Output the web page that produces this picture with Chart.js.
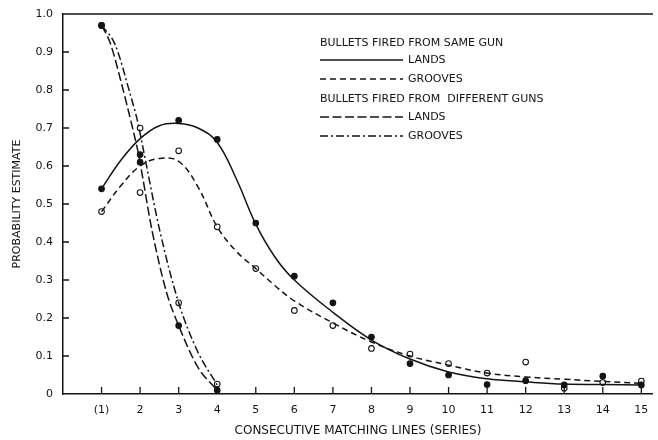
<!DOCTYPE html>
<html>
<head>
<meta charset="utf-8">
<script src="https://cdn.jsdelivr.net/npm/chart.js@4.4.1/dist/chart.umd.min.js"></script>
<style>
  html, body { margin: 0; padding: 0; background: #fff; }
  #wrap { width: 658px; height: 440px; }
</style>
</head>
<body>
<div id="wrap"><canvas id="myChart"></canvas></div>
<script>
// fitted curves
const sameCurveX = [1, 1.5, 2, 2.5, 3, 3.5, 4, 4.5, 5, 5.5, 6, 7, 8, 9, 10, 11, 12, 13, 14, 15];
const sameLandsCurve = [0.54, 0.615, 0.672, 0.706, 0.712, 0.70, 0.662, 0.565, 0.447, 0.36, 0.30, 0.215, 0.142, 0.092, 0.058, 0.04, 0.032, 0.026, 0.025, 0.024];
const sameGroovesCurve = [0.48, 0.548, 0.60, 0.62, 0.612, 0.545, 0.44, 0.375, 0.33, 0.285, 0.245, 0.187, 0.137, 0.10, 0.076, 0.055, 0.045, 0.039, 0.033, 0.028];

const diffLandsCurveX = [1, 1.22, 1.56, 1.78, 1.95, 2.31, 2.69, 3, 3.5, 4];
const diffLandsCurve = [0.97, 0.925, 0.80, 0.71, 0.635, 0.43, 0.266, 0.18, 0.07, 0.01];
const diffGroovesCurveX = [1, 1.35, 1.74, 1.94, 2.07, 2.51, 3, 3.5, 4];
const diffGroovesCurve = [0.97, 0.92, 0.79, 0.715, 0.65, 0.43, 0.24, 0.11, 0.024];

// measured points
const pointX = [1, 2, 3, 4, 5, 6, 7, 8, 9, 10, 11, 12, 13, 14, 15];
const sameLandsPts = [0.54, 0.61, 0.72, 0.67, 0.45, 0.31, 0.24, 0.15, 0.08, 0.05, 0.025, 0.035, 0.024, 0.047, 0.024];
const sameGroovesPts = [0.48, 0.53, 0.64, 0.44, 0.33, 0.22, 0.18, 0.12, 0.105, 0.08, 0.055, 0.084, 0.015, 0.03, 0.034];
const diffX = [1, 2, 3, 4];
const diffLandsPts = [0.97, 0.63, 0.18, 0.01];
const diffGroovesPts = [0.97, 0.70, 0.24, 0.026];

const xTicks = [1, 2, 3, 4, 5, 6, 7, 8, 9, 10, 11, 12, 13, 14, 15];
const xTickLabels = ['(1)', '2', '3', '4', '5', '6', '7', '8', '9', '10', '11', '12', '13', '14', '15'];

const INK = '#141414';
const FONT = "'DejaVu Sans', sans-serif";

const pts = (xs, ys) => xs.map((x, i) => ({ x: x, y: ys[i] }));

// smooth: true -> bezier tension, otherwise monotone cubic
const curve = (label, xs, ys, dash, smooth) => ({
  label: label,
  data: pts(xs, ys),
  showLine: true,
  borderColor: INK,
  borderWidth: 1.5,
  borderDash: dash,
  pointRadius: 0,
  tension: smooth ? 0.4 : 0,
  cubicInterpolationMode: smooth ? 'default' : 'monotone',
  fill: false
});

const marks = (xs, ys, filled) => ({
  data: pts(xs, ys),
  showLine: false,
  pointRadius: 2.8,
  pointBorderWidth: 1.1,
  pointBorderColor: INK,
  pointBackgroundColor: filled ? INK : '#fff'
});

// legend with the two headings, drawn straight on the canvas
const legendBox = {
  id: 'legendBox',
  afterDraw(chart) {
    const ctx = chart.ctx;
    const rows = [
      { text: 'BULLETS FIRED FROM SAME GUN', y: 43 },
      { text: 'LANDS', y: 60, ds: 0 },
      { text: 'GROOVES', y: 79, ds: 1 },
      { text: 'BULLETS FIRED FROM  DIFFERENT GUNS', y: 99 },
      { text: 'LANDS', y: 117, ds: 2 },
      { text: 'GROOVES', y: 136, ds: 3 }
    ];
    ctx.save();
    ctx.fillStyle = INK;
    ctx.strokeStyle = INK;
    ctx.font = '11px ' + FONT;
    ctx.textBaseline = 'middle';
    rows.forEach(r => {
      if (r.ds === undefined) {
        ctx.fillText(r.text, 320, r.y);
        return;
      }
      const d = chart.data.datasets[r.ds];
      ctx.setLineDash(d.borderDash || []);
      ctx.lineWidth = 1.5;
      ctx.beginPath();
      ctx.moveTo(320, r.y);
      ctx.lineTo(403, r.y);
      ctx.stroke();
      ctx.setLineDash([]);
      ctx.fillText(r.text, 408, r.y);
    });
    ctx.restore();
  }
};

// inward tick marks and the top frame line
const frame = {
  id: 'frame',
  afterDraw(chart) {
    const { ctx, chartArea, scales } = chart;
    ctx.save();
    ctx.strokeStyle = INK;
    ctx.lineWidth = 1.3;
    ctx.beginPath();
    scales.x.ticks.forEach(t => {
      const px = scales.x.getPixelForValue(t.value);
      ctx.moveTo(px, chartArea.bottom);
      ctx.lineTo(px, chartArea.bottom - 7);
    });
    scales.y.ticks.forEach(t => {
      if (t.value === 0) return;
      const py = scales.y.getPixelForValue(t.value);
      ctx.moveTo(chartArea.left, py);
      ctx.lineTo(chartArea.left + 6, py);
    });
    ctx.moveTo(chartArea.left, chartArea.top);
    ctx.lineTo(chartArea.right, chartArea.top);
    ctx.stroke();
    ctx.restore();
  }
};

const ctx = document.getElementById('myChart');
const myChart = new Chart(ctx, {
  type: 'scatter',
  data: {
    datasets: [
      curve('LANDS', sameCurveX, sameLandsCurve, [], true),
      curve('GROOVES', sameCurveX, sameGroovesCurve, [6, 4], true),
      curve('LANDS', diffLandsCurveX, diffLandsCurve, [9, 3.5], false),
      curve('GROOVES', diffGroovesCurveX, diffGroovesCurve, [8, 3, 2, 3], false),
      marks(pointX, sameLandsPts, true),
      marks(pointX, sameGroovesPts, false),
      marks(diffX, diffLandsPts, true),
      marks(diffX, diffGroovesPts, false)
    ]
  },
  options: {
    responsive: true,
    maintainAspectRatio: false,
    animation: false,
    layout: { padding: { top: 14, right: 3, left: 0, bottom: 0 } },
    plugins: {
      legend: { display: false },
      tooltip: { enabled: false }
    },
    scales: {
      x: {
        type: 'linear',
        min: 0,
        max: 15.3,
        afterFit: s => { s.height = 46; },
        afterBuildTicks: s => { s.ticks = xTicks.map(v => ({ value: v })); },
        grid: { display: false },
        border: { display: true, color: INK, width: 1.5 },
        ticks: {
          padding: 2,
          color: INK,
          font: { family: FONT, size: 11 },
          maxRotation: 0,
          autoSkip: false,
          callback: v => xTickLabels[xTicks.indexOf(v)] ?? ''
        },
        title: {
          display: true,
          text: 'CONSECUTIVE MATCHING LINES (SERIES)',
          color: INK,
          font: { family: FONT, size: 12 },
          padding: { top: 0, bottom: 2 }
        }
      },
      y: {
        min: 0,
        max: 1,
        afterFit: s => { s.width = 63; },
        grid: { display: false },
        border: { display: true, color: INK, width: 1.5 },
        ticks: {
          stepSize: 0.1,
          padding: 2,
          color: INK,
          font: { family: FONT, size: 11 },
          callback: v => (v === 0 ? '0' : v.toFixed(1))
        },
        title: {
          display: true,
          text: 'PROBABILITY ESTIMATE',
          color: INK,
          font: { family: FONT, size: 11 },
          padding: { top: 11, bottom: 0 }
        }
      }
    }
  },
  plugins: [legendBox, frame]
});
</script>
</body>
</html>
